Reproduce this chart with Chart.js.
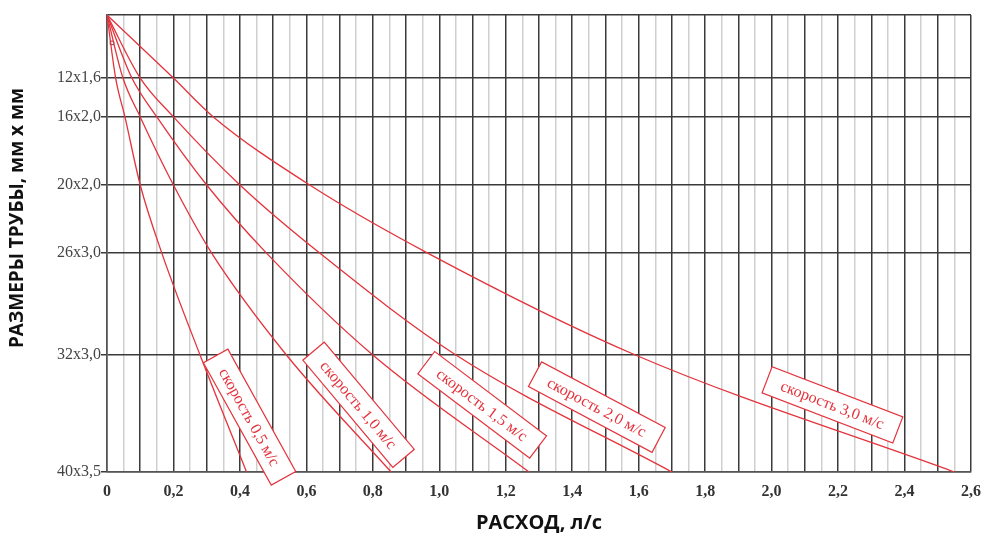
<!DOCTYPE html>
<html>
<head>
<meta charset="utf-8">
<script src="https://cdn.jsdelivr.net/npm/chart.js@4.4.1/dist/chart.umd.min.js"></script>
<style>
  html, body { margin: 0; padding: 0; background: #fff; }
  #wrap { width: 986px; height: 538px; position: relative; }
</style>
</head>
<body>
<div id="wrap"><canvas id="pipeChart"></canvas></div>
<script>
// pipe sizes on the vertical scale (top = 0, bottom = 100)
const sizeLabels = ["12x1,6", "16x2,0", "20x2,0", "26x3,0", "32x3,0", "40x3,5"];
const sizeLevels = [13.8, 22.3, 37.2, 52.1, 74.4, 100];
const lineLevels = [0, ...sizeLevels];

// flow, l/s, where each velocity line crosses a pipe size (first value = origin)
const flowV05 = [0, 0.026, 0.054, 0.10, 0.165, 0.28, 0.42];
const flowV10 = [0, 0.048, 0.10, 0.20, 0.315, 0.54, 0.855];
const flowV15 = [0, 0.075, 0.15, 0.30, 0.48, 0.80, 1.27];
const flowV20 = [0, 0.10, 0.20, 0.40, 0.64, 1.05, 1.70];
const flowV30 = [0, 0.20, 0.32, 0.61, 0.965, 1.59, 2.55];

const velocityNames = ["скорость 0,5 м/с", "скорость 1,0 м/с", "скорость 1,5 м/с", "скорость 2,0 м/с", "скорость 3,0 м/с"];
const labelFlow = [0.429, 0.757, 1.129, 1.474, 2.183];
const labelLevel = [88.0, 85.3, 85.3, 85.8, 85.3];
const labelAngle = [61, 50, 37, 28, 21];

const RED = "#e4333c";

function toPoints(flows) {
  return flows.map((q, i) => ({ x: q, y: lineLevels[i] }));
}

const lineSets = [flowV05, flowV10, flowV15, flowV20, flowV30].map((f, i) => ({
  label: velocityNames[i],
  data: toPoints(f),
  borderColor: RED,
  borderWidth: 1.3,
  pointRadius: 0,
  cubicInterpolationMode: "monotone",
  fill: false
}));

// little square mark near the origin
lineSets.push({
  label: "mark",
  data: [{ x: 0.015, y: 6.1 }],
  showLine: false,
  pointStyle: "rect",
  pointRadius: 2.5,
  borderWidth: 1,
  borderColor: "#7a4848",
  backgroundColor: "#fff"
});

const speedBoxes = {
  id: "speedBoxes",
  afterDatasetsDraw(chart) {
    const { ctx, scales } = chart;
    velocityNames.forEach((txt, i) => {
      const px = scales.x.getPixelForValue(labelFlow[i]);
      const py = scales.y.getPixelForValue(labelLevel[i]);
      ctx.save();
      ctx.translate(px, py);
      ctx.rotate(labelAngle[i] * Math.PI / 180);
      ctx.fillStyle = "#fff";
      ctx.fillRect(-70, -14, 140, 28);
      ctx.strokeStyle = RED;
      ctx.lineWidth = 1.2;
      ctx.strokeRect(-70, -14, 140, 28);
      ctx.fillStyle = RED;
      ctx.font = '16px "Liberation Serif"';
      ctx.textAlign = "center";
      ctx.textBaseline = "middle";
      ctx.fillText(txt, 0, 1);
      ctx.restore();
    });
  },
  afterDraw(chart) {
    const { ctx } = chart;
    ctx.save();
    ctx.translate(18, 218);
    ctx.rotate(-Math.PI / 2);
    ctx.fillStyle = "#111";
    ctx.font = 'bold 19px "Open Sans"';
    ctx.textAlign = "center";
    ctx.textBaseline = "middle";
    ctx.fillText("РАЗМЕРЫ ТРУБЫ, мм х мм", 0, 0);
    ctx.restore();
  }
};

new Chart(document.getElementById("pipeChart"), {
  type: "line",
  data: { datasets: lineSets },
  options: {
    responsive: true,
    maintainAspectRatio: false,
    animation: false,
    layout: { padding: { top: 15, right: 15, bottom: 0, left: 0 } },
    plugins: {
      legend: { display: false },
      tooltip: { enabled: false }
    },
    scales: {
      x: {
        type: "linear",
        min: 0,
        max: 2.6,
        afterFit: (s) => { s.height = 66; s.paddingRight = 0; s.paddingLeft = 0; },
        ticks: {
          stepSize: 0.05,
          autoSkip: false,
          maxRotation: 0,
          padding: 10,
          color: "#333",
          font: { family: "Liberation Serif", size: 16, weight: "bold" },
          callback: (v) => {
            if (Math.round(v * 10) % 2 !== 0 || Math.round(v * 20) % 2 !== 0) return "";
            return v === 0 ? "0" : v.toFixed(1).replace(".", ",");
          }
        },
        grid: {
          drawTicks: false,
          color: (c) => Math.round(c.tick.value * 20) % 2 === 0 ? "#3a3a3a" : "#cfcfcf",
          lineWidth: 1.5
        },
        border: { color: "#555", width: 1.5 },
        title: {
          display: true,
          text: "РАСХОД, л/с",
          color: "#111",
          font: { family: "Open Sans", size: 20, weight: "bold" },
          padding: { top: 0, bottom: 3 }
        }
      },
      y: {
        type: "linear",
        min: 0,
        max: 100,
        reverse: true,
        afterFit: (s) => { s.width = 107; s.paddingTop = 0; s.paddingBottom = 0; },
        afterBuildTicks: (s) => { s.ticks = [0, ...sizeLevels].map(v => ({ value: v })); },
        ticks: {
          padding: 0,
          color: "#444",
          font: { family: "Liberation Serif", size: 16 },
          callback: (v, i) => i === 0 ? "" : sizeLabels[i - 1]
        },
        grid: {
          color: "#3a3a3a",
          lineWidth: 1.5,
          tickLength: 6,
          tickColor: (c) => c.index === 0 ? "rgba(0,0,0,0)" : "#3a3a3a"
        },
        border: { color: "#555", width: 1.5 }
      }
    }
  },
  plugins: [speedBoxes]
});
</script>
</body>
</html>
